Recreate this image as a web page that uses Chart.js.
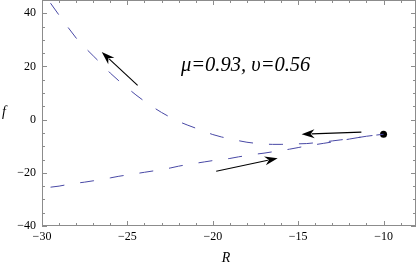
<!DOCTYPE html>
<html>
<head>
<meta charset="utf-8">
<script src="https://cdn.jsdelivr.net/npm/chart.js@4/dist/chart.umd.min.js"></script>
<style>
  html, body { margin: 0; padding: 0; background: #fff; }
  #wrap { width: 417px; height: 267px; }
</style>
</head>
<body>
<div id="wrap"><canvas id="chart" width="417" height="267"></canvas></div>
<script>
/* ── Data ──────────────────────────────────────────────────────────────── */
const rValues = [
  -29.5, -29, -28.5, -28, -27.5, -27, -26.5, -26, -25.5, -25,
  -24.5, -24, -23.5, -23, -22.5, -22, -21.5, -21, -20.5, -20,
  -19.5, -19, -18.5, -18, -17.5, -17, -16.5, -16, -15.5, -15,
  -14.5, -14, -13.5, -13, -12.5, -12, -11.5, -11, -10.5, -10
];
const upperF = [
  43.8, 39.3, 34.9, 30.7, 27.2, 24.0, 20.8, 17.5, 14.6, 11.9,
  9.3, 6.9, 4.7, 2.7, 0.9, -0.7, -2.0, -3.2, -4.5, -5.6,
  -6.5, -7.2, -7.9, -8.5, -8.9, -9.2, -9.3, -9.3, -9.2, -9.1,
  -9.0, -8.7, -8.4, -8.0, -7.6, -7.2, -6.75, -6.25, -5.85, -5.5
];
const lowerF = [
  -25.4, -25.0, -24.4, -23.9, -23.5, -23.0, -22.4, -21.9, -21.3, -20.8,
  -20.3, -19.8, -19.3, -18.8, -18.2, -17.5, -16.9, -16.4, -15.9, -15.4,
  -15.0, -14.6, -14.0, -13.5, -13.0, -12.6, -12.1, -11.6, -11.1, -10.5,
  -9.9, -9.4, -8.9, -8.4, -7.85, -7.3, -6.75, -6.25, -5.85, -5.5
];
const startPoint = { x: -10, y: -5.5 };

const arrowFrom = [ { x: -24.4, y: 12.9 }, { x: -11.3, y: -4.7 }, { x: -19.8, y: -19.4 } ];
const arrowTo   = [ { x: -26.5, y: 25.4 }, { x: -14.8, y: -5.5 }, { x: -16.2, y: -14.5 } ];

const xTicks = [-30, -25, -20, -15, -10];
const yTicks = [-40, -20, 0, 20, 40];
const xRange = { min: -30, max: -8.1 };
const yRange = { min: -40, max: 45 };

const paramLabel = 'μ=0.93, υ=0.56';
const xTitle = 'R';
const yTitle = 'f';

/* ── Helpers ───────────────────────────────────────────────────────────── */
const toPoints = ys => rValues.map((x, i) => ({ x, y: ys[i] }));
const fmtTick  = v => (v < 0 ? '\u2212' + Math.abs(v) : String(v));

const SERIF     = '"Liberation Serif", "DejaVu Serif", serif';
const LINE_COL  = 'rgb(72,72,165)';
const FRAME_COL = '#8c8c8c';

/* ── Frame with inward ticks, arrows and texts ─────────────────────────── */
const framePlugin = {
  id: 'frame',
  afterDraw(chart) {
    const { ctx, chartArea: a, scales: { x, y } } = chart;
    ctx.save();

    // frame
    ctx.strokeStyle = FRAME_COL;
    ctx.lineWidth = 1;
    ctx.strokeRect(a.left + 0.5, a.top + 0.5, a.right - a.left - 1, a.bottom - a.top - 1);

    // x ticks (minor every 1, major every 5)
    ctx.beginPath();
    for (let v = -30; v <= -8; v++) {
      const px = Math.round(x.getPixelForValue(v)) + 0.5;
      const len = v % 5 === 0 ? 5 : 3;
      ctx.moveTo(px, a.bottom); ctx.lineTo(px, a.bottom - len);
      ctx.moveTo(px, a.top);    ctx.lineTo(px, a.top + len);
    }
    // y ticks (minor every 5, major every 20)
    for (let v = -40; v <= 45; v += 5) {
      const py = Math.round(y.getPixelForValue(v)) + 0.5;
      const len = v % 20 === 0 ? 5 : 3;
      ctx.moveTo(a.left, py);  ctx.lineTo(a.left + len, py);
      ctx.moveTo(a.right, py); ctx.lineTo(a.right - len, py);
    }
    ctx.stroke();

    // arrows
    ctx.strokeStyle = '#000';
    ctx.fillStyle = '#000';
    ctx.lineWidth = 1.1;
    arrowFrom.forEach((f, i) => {
      const t  = arrowTo[i];
      const x0 = x.getPixelForValue(f.x), y0 = y.getPixelForValue(f.y);
      const x1 = x.getPixelForValue(t.x), y1 = y.getPixelForValue(t.y);
      const ang = Math.atan2(y1 - y0, x1 - x0);
      const hl = 13, hw = 4.5;
      const bx = x1 - hl * Math.cos(ang), by = y1 - hl * Math.sin(ang);
      ctx.beginPath();
      ctx.moveTo(x0, y0); ctx.lineTo(bx + 3 * Math.cos(ang), by + 3 * Math.sin(ang));
      ctx.stroke();
      ctx.beginPath();
      ctx.moveTo(x1, y1);
      ctx.lineTo(bx - hw * Math.sin(ang), by + hw * Math.cos(ang));
      ctx.lineTo(bx + 4 * Math.cos(ang), by + 4 * Math.sin(ang));
      ctx.lineTo(bx + hw * Math.sin(ang), by - hw * Math.cos(ang));
      ctx.closePath();
      ctx.fill();
    });

    // texts
    ctx.fillStyle = '#000';
    ctx.textBaseline = 'middle';
    ctx.font = 'italic 20.5px ' + SERIF;
    ctx.textAlign = 'left';
    ctx.fillText(paramLabel, 181, 66);

    ctx.font = 'italic 14px ' + SERIF;
    ctx.fillText(yTitle, 2, 112);
    ctx.textAlign = 'center';
    ctx.fillText(xTitle, 226, 258);

    ctx.restore();
  }
};

/* ── Chart ─────────────────────────────────────────────────────────────── */
const tickFont = { family: SERIF, size: 12 };

new Chart(document.getElementById('chart').getContext('2d'), {
  type: 'scatter',
  data: {
    datasets: [
      {
        data: toPoints(upperF), showLine: true, fill: false,
        borderColor: LINE_COL, borderWidth: 1, borderDash: [14, 16],
        pointRadius: 0, tension: 0
      },
      {
        data: toPoints(lowerF), showLine: true, fill: false,
        borderColor: LINE_COL, borderWidth: 1, borderDash: [14, 16],
        pointRadius: 0, tension: 0
      },
      {
        data: [startPoint], pointRadius: 3.5,
        backgroundColor: '#000', borderWidth: 0
      }
    ]
  },
  options: {
    responsive: false,
    animation: false,
    layout: { autoPadding: false, padding: { top: 0, right: 1, bottom: 0, left: 0 } },
    plugins: { legend: { display: false }, tooltip: { enabled: false } },
    scales: {
      x: {
        type: 'linear', min: xRange.min, max: xRange.max,
        afterFit: s => { s.height = 41; s.paddingLeft = 0; s.paddingRight = 0; },
        afterBuildTicks: s => { s.ticks = xTicks.map(v => ({ value: v })); },
        grid: { display: false, drawTicks: false },
        border: { display: false },
        ticks: { font: tickFont, color: '#000', padding: 4, autoSkip: false, maxRotation: 0, callback: fmtTick }
      },
      y: {
        type: 'linear', min: yRange.min, max: yRange.max,
        afterFit: s => { s.width = 42; s.paddingTop = 0; s.paddingBottom = 0; },
        afterBuildTicks: s => { s.ticks = yTicks.map(v => ({ value: v })); },
        grid: { display: false, drawTicks: false },
        border: { display: false },
        ticks: { font: tickFont, color: '#000', padding: 6, autoSkip: false, callback: fmtTick }
      }
    }
  },
  plugins: [framePlugin]
});
</script>
</body>
</html>
